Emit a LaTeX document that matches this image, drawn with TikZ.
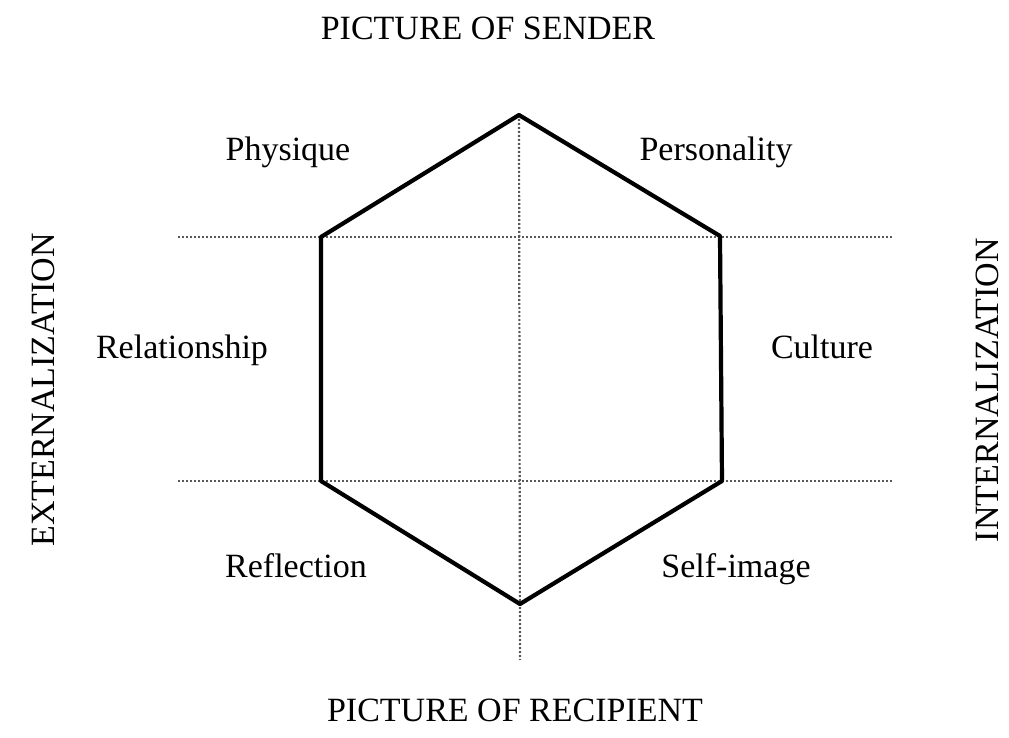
\documentclass[tikz,border=0pt]{standalone}
\usepackage{fontspec}
\setmainfont{Liberation Serif}
\usetikzlibrary{positioning}

\tikzset{
  label/.style={font=\fontsize{17}{20}\selectfont, inner sep=0pt, anchor=base},
  hexline/.style={line width=2.1pt, line join=round},
  guide/.style={gray!70!black, line width=1.1pt, dash pattern=on 1pt off 1pt}
}

\begin{document}
\begin{tikzpicture}[x=0.5pt, y=-0.5pt]
\useasboundingbox (0,0) rectangle (1009,738);

\coordinate (top) at (519,115);
\coordinate (ul) at (321,237);
\coordinate (ur) at (720,236);
\coordinate (ll) at (321,481);
\coordinate (lr) at (722,481);
\coordinate (bot) at (520,604);

\coordinate (hl1) at (178,237);
\coordinate (hr1) at (893,237);
\coordinate (hl2) at (178,481);
\coordinate (hr2) at (893,481);
\coordinate (vb) at (520,660);

\draw[guide] (hl1) -- (hr1);
\draw[guide] (hl2) -- (hr2);
\draw[guide] (top) -- (vb);

\draw[hexline] (top) -- (ur) -- (lr) -- (bot) -- (ll) -- (ul) -- cycle;

\node[label] (sender) at (488,40) {PICTURE OF SENDER};
\node[label] (recipient) at (515,721) {PICTURE OF RECIPIENT};
\node[label, rotate=90, anchor=center] (ext) at (43,390) {EXTERNALIZATION};
\node[label, rotate=90, anchor=center] (int) at (987,390) {INTERNALIZATION};

\node[label] (physique) at (288,161) {Physique};
\node[label] (personality) at (716,161) {Personality};
\node[label] (relationship) at (182,358) {Relationship};
\node[label] (culture) at (822,358) {Culture};
\node[label] (reflection) at (296,578) {Reflection};
\node[label] (selfimage) at (736,578) {Self-image};

\end{tikzpicture}
\end{document}
